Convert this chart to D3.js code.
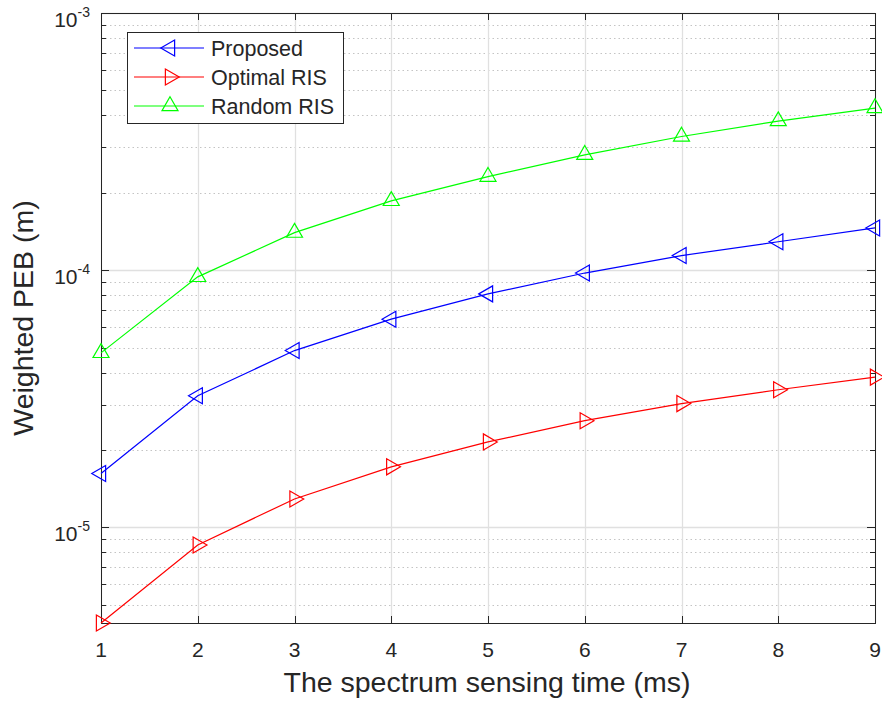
<!DOCTYPE html>
<html>
<head>
<meta charset="utf-8">
<script src="https://cdn.jsdelivr.net/npm/d3@7"></script>
<style>
  html, body { margin: 0; padding: 0; background: #fff; }
  svg { display: block; }
  text { font-family: "Liberation Sans", Arial, Helvetica, sans-serif; fill: #262626; }
</style>
</head>
<body>
<svg id="chart" width="882" height="707"></svg>
<script>
// ---- data ----
const xValues = [1, 2, 3, 4, 5, 6, 7, 8, 9];
const proposed = [1.62e-5, 3.25e-5, 4.87e-5, 6.45e-5, 8.09e-5, 9.75e-5, 1.14e-4, 1.29e-4, 1.46e-4];
const optimalRIS = [4.25e-6, 8.55e-6, 1.29e-5, 1.72e-5, 2.15e-5, 2.60e-5, 3.03e-5, 3.43e-5, 3.84e-5];
const randomRIS = [4.77e-5, 9.42e-5, 1.40e-4, 1.86e-4, 2.31e-4, 2.81e-4, 3.31e-4, 3.80e-4, 4.27e-4];
const seriesNames = ["Proposed", "Optimal RIS", "Random RIS"];
const xTicks = [1, 2, 3, 4, 5, 6, 7, 8, 9];
const yMajorExponents = [-5, -4, -3];
const xLabel = "The spectrum sensing time (ms)";
const yLabel = "Weighted PEB (m)";

// ---- layout ----
const L = 101, R = 875, T = 13, B = 623;
const svg = d3.select("#chart");
const x = d3.scaleLinear().domain([1, 9]).range([L, R]);
const y = d3.scaleLog().domain([4.25e-6, 1e-3]).range([B, T]);

const series = [
  { name: seriesNames[0], values: proposed, color: "#0000ff", marker: "left" },
  { name: seriesNames[1], values: optimalRIS, color: "#ff0000", marker: "right" },
  { name: seriesNames[2], values: randomRIS, color: "#00ff00", marker: "up" }
];

// minor ticks
const yMinor = [];
for (let e = -6; e <= -4; e++) {
  for (let m = 2; m <= 9; m++) {
    const v = m * Math.pow(10, e);
    if (v >= y.domain()[0] && v <= y.domain()[1]) yMinor.push(v);
  }
}
const yMajor = yMajorExponents.map(e => Math.pow(10, e));

// grid
const grid = svg.append("g");
grid.selectAll(".ymin").data(yMinor).join("line")
  .attr("x1", L).attr("x2", R)
  .attr("y1", d => Math.round(y(d)) + 0.5).attr("y2", d => Math.round(y(d)) + 0.5)
  .attr("stroke", "#c4c4c4").attr("stroke-width", 1).attr("stroke-dasharray", "1.5,3");
grid.selectAll(".ymaj").data(yMajor).join("line")
  .attr("x1", L).attr("x2", R)
  .attr("y1", d => Math.round(y(d)) + 0.5).attr("y2", d => Math.round(y(d)) + 0.5)
  .attr("stroke", "#e0e0e0").attr("stroke-width", 1.3);
grid.selectAll(".xmaj").data(xTicks).join("line")
  .attr("y1", T).attr("y2", B)
  .attr("x1", d => Math.round(x(d)) + 0.5).attr("x2", d => Math.round(x(d)) + 0.5)
  .attr("stroke", "#e0e0e0").attr("stroke-width", 1.3);

// axes box
const axisColor = "#262626";
svg.append("rect").attr("x", L + 0.5).attr("y", T + 0.5).attr("width", R - L).attr("height", B - T)
  .attr("fill", "none").attr("stroke", axisColor).attr("stroke-width", 1);

// ticks
const tk = svg.append("g").attr("stroke", axisColor).attr("stroke-width", 1);
xTicks.forEach(v => {
  const px = Math.round(x(v)) + 0.5;
  tk.append("line").attr("x1", px).attr("x2", px).attr("y1", B).attr("y2", B - 7);
  tk.append("line").attr("x1", px).attr("x2", px).attr("y1", T).attr("y2", T + 7);
});
yMajor.forEach(v => {
  const py = Math.round(y(v)) + 0.5;
  tk.append("line").attr("x1", L).attr("x2", L + 8).attr("y1", py).attr("y2", py);
  tk.append("line").attr("x1", R).attr("x2", R - 8).attr("y1", py).attr("y2", py);
});
yMinor.forEach(v => {
  const py = Math.round(y(v)) + 0.5;
  tk.append("line").attr("x1", L).attr("x2", L + 5).attr("y1", py).attr("y2", py);
  tk.append("line").attr("x1", R).attr("x2", R - 5).attr("y1", py).attr("y2", py);
});

// x tick labels
svg.append("g").selectAll("text").data(xTicks).join("text")
  .attr("x", d => x(d)).attr("y", 657)
  .attr("text-anchor", "middle").attr("font-size", 21)
  .text(d => d);

// y tick labels
const yl = svg.append("g").selectAll("text").data(yMajorExponents).join("text")
  .attr("x", 90).attr("y", d => y(Math.pow(10, d)) + 14)
  .attr("text-anchor", "end").attr("font-size", 21);
yl.append("tspan").text("10");
yl.append("tspan").attr("font-size", 14).attr("dy", -10).text(d => String(d));

// axis labels
svg.append("text").attr("x", (L + R) / 2 - 1).attr("y", 692)
  .attr("text-anchor", "middle").attr("font-size", 28.5).text(xLabel);
svg.append("text").attr("transform", `translate(33,${(T + B) / 2}) rotate(-90)`)
  .attr("text-anchor", "middle").attr("font-size", 28.5).text(yLabel);

// markers
function markerPath(type, s) {
  const h = s * Math.sqrt(3) / 2;
  const a = 2 * h / 3, b = h / 3, c = s / 2;
  if (type === "up") return `M0,${-a}L${c},${b}L${-c},${b}Z`;
  if (type === "left") return `M${-a},0L${b},${-c}L${b},${c}Z`;
  return `M${a},0L${-b},${-c}L${-b},${c}Z`;
}
const line = d3.line().x((d, i) => x(xValues[i])).y(d => y(d));

series.forEach(s => {
  const g = svg.append("g");
  g.append("path").attr("d", line(s.values)).attr("fill", "none")
    .attr("stroke", s.color).attr("stroke-width", 1.2);
  g.selectAll("path.m").data(s.values).join("path").attr("class", "m")
    .attr("transform", (d, i) => `translate(${x(xValues[i])},${y(d)})`)
    .attr("d", markerPath(s.marker, 16))
    .attr("fill", "none").attr("stroke", s.color).attr("stroke-width", 1.2);
});

// legend
const lg = svg.append("g");
lg.append("rect").attr("x", 127.5).attr("y", 32.5).attr("width", 216).attr("height", 91)
  .attr("fill", "#fff").attr("stroke", axisColor).attr("stroke-width", 1);
const rowsY = [48, 77, 106];
series.forEach((s, i) => {
  const ry = rowsY[i];
  lg.append("line").attr("x1", 134).attr("x2", 204).attr("y1", ry).attr("y2", ry)
    .attr("stroke", s.color).attr("stroke-width", 1.2);
  lg.append("path").attr("transform", `translate(170,${ry})`)
    .attr("d", markerPath(s.marker, 16))
    .attr("fill", "none").attr("stroke", s.color).attr("stroke-width", 1.2);
  lg.append("text").attr("x", 211).attr("y", ry + 7.5).attr("font-size", 21.5).text(s.name);
});
</script>
</body>
</html>
